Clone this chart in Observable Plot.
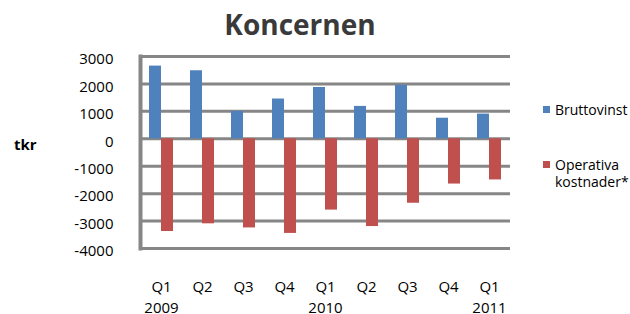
<!DOCTYPE html>
<html>
<head>
<meta charset="utf-8">
<script src="https://cdn.jsdelivr.net/npm/d3@7"></script>
<script src="https://cdn.jsdelivr.net/npm/@observablehq/plot@0.6"></script>
<style>
  html, body { margin: 0; padding: 0; background: #fff; }
  #wrap { position: relative; width: 630px; height: 314px; font-family: "Open Sans", sans-serif; overflow: hidden; }
  .ov { position: absolute; white-space: nowrap; color: #000; }
  .sq { position: absolute; width: 7px; height: 7px; }
</style>
</head>
<body>
<div id="wrap">
  <div id="chart"></div>
  <div class="ov" style="left:0;top:10px;width:600px;text-align:center;font-size:28px;line-height:28px;font-weight:bold;color:#3a3a3a;">Koncernen</div>
  <div class="ov" style="left:14px;top:137px;font-size:15px;line-height:15px;font-weight:bold;">tkr</div>
  <div class="sq" style="left:543px;top:106px;background:#4F81BD;"></div>
  <div class="ov" style="left:555px;top:102.6px;font-size:14px;line-height:14px;">Bruttovinst</div>
  <div class="sq" style="left:543px;top:161px;background:#C0504D;"></div>
  <div class="ov" style="left:555px;top:156px;font-size:14px;line-height:17.3px;">Operativa<br>kostnader*</div>
</div>
<script>
const quarters = ["Q1", "Q2", "Q3", "Q4", "Q1", "Q2", "Q3", "Q4", "Q1"];
const years = ["2009", "", "", "", "2010", "", "", "", "2011"];
const yearOf = ["2009", "2009", "2009", "2009", "2010", "2010", "2010", "2010", "2011"];
const bruttovinst = [2650, 2480, 1000, 1450, 1870, 1180, 1950, 750, 900];
const operativa = [-3380, -3100, -3250, -3450, -2600, -3200, -2350, -1650, -1500];
const yTicks = [-4000, -3000, -2000, -1000, 0, 1000, 2000, 3000];

const keys = quarters.map((q, i) => yearOf[i] + q);
const rows = keys.map((k, i) => ({key: k, q: quarters[i], yr: years[i], b: bruttovinst[i], o: operativa[i]}));

const chart = Plot.plot({
  width: 630,
  height: 314,
  marginLeft: 140,
  marginRight: 120,
  marginTop: 56,
  marginBottom: 66,
  style: {fontFamily: "Open Sans", fontSize: "15px", color: "#000", background: "transparent"},
  x: {type: "band", domain: keys, paddingInner: 0.418, paddingOuter: 0.194, axis: null},
  y: {domain: [-4000, 3000], axis: null},
  marks: [
    Plot.ruleY(yTicks, {stroke: "#868686", strokeWidth: 3}),
    Plot.frame({anchor: "left", stroke: "#868686", strokeWidth: 4}),
    Plot.barY(rows, {x: "key", y: "b", fill: "#4F81BD", insetRight: 12}),
    Plot.barY(rows, {x: "key", y: "o", fill: "#C0504D", insetLeft: 12}),
    Plot.axisY(yTicks, {tickSize: 0, tickPadding: 27, tickFormat: d => String(d), dy: 3, label: null}),
    Plot.text(rows, {x: "key", text: d => d.q + "\n" + d.yr, frameAnchor: "bottom", lineAnchor: "top", dy: 28.7, lineHeight: 1.4, fontSize: 15})
  ]
});
document.getElementById("chart").appendChild(chart);
</script>
</body>
</html>
